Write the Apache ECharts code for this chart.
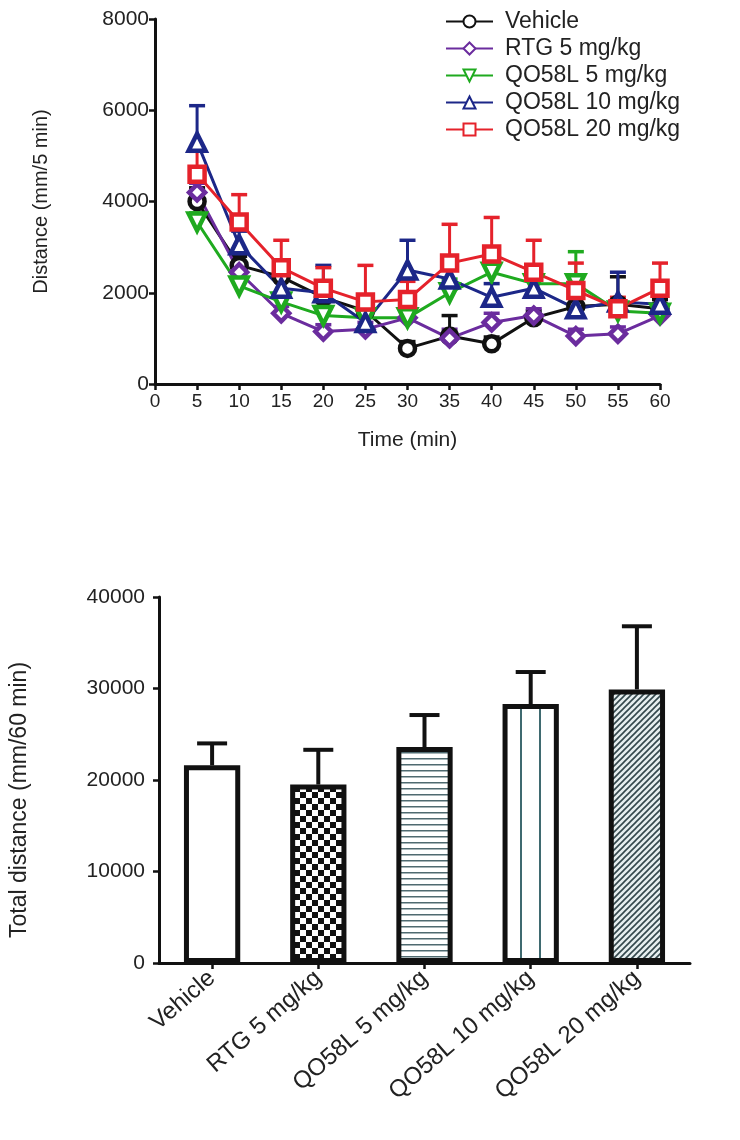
<!DOCTYPE html>
<html><head><meta charset="utf-8">
<script src="https://cdn.jsdelivr.net/npm/echarts@6/dist/echarts.min.js"></script>
<style>html,body{margin:0;padding:0;background:#fff}#c{width:740px;height:1140px}</style>
</head><body><div id="c"></div>
<script>
// ---- data: time course ----
const timePoints = [5, 10, 15, 20, 25, 30, 35, 40, 45, 50, 55, 60];
const seriesNames = ['Vehicle', 'RTG 5 mg/kg', 'QO58L 5 mg/kg', 'QO58L 10 mg/kg', 'QO58L 20 mg/kg'];
const vehicleMean = [4000, 2600, 2350, 1900, 1600, 780, 1050, 880, 1450, 1700, 1750, 1650];
const vehicleErr  = [300, 200, 250, 200, 200, 150, 450, 150, 150, 200, 600, 200];
const rtgMean     = [4200, 2450, 1550, 1150, 1200, 1450, 1000, 1350, 1500, 1050, 1100, 1500];
const rtgErr      = [200, 200, 150, 150, 150, 200, 200, 200, 150, 150, 150, 150];
const qo5Mean     = [3550, 2150, 1800, 1500, 1450, 1450, 2000, 2450, 2200, 2200, 1600, 1550];
const qo5Err      = [200, 200, 200, 200, 200, 200, 300, 450, 300, 700, 250, 200];
const qo10Mean    = [5300, 3050, 2100, 2000, 1350, 2500, 2300, 1900, 2100, 1650, 1800, 1750];
const qo10Err     = [800, 300, 300, 600, 300, 650, 300, 300, 300, 300, 650, 300];
const qo20Mean    = [4600, 3550, 2550, 2100, 1800, 1850, 2650, 2850, 2450, 2050, 1650, 2100];
const qo20Err     = [500, 600, 600, 450, 800, 400, 850, 800, 700, 600, 250, 550];

// ---- data: total distance ----
const totalCategories = ['Vehicle', 'RTG 5 mg/kg', 'QO58L 5 mg/kg', 'QO58L 10 mg/kg', 'QO58L 20 mg/kg'];
const totalMean = [21600, 19500, 23600, 28300, 29900];
const totalErr  = [2400, 3800, 3500, 3500, 6900];

const means = [vehicleMean, rtgMean, qo5Mean, qo10Mean, qo20Mean];
const errs = [vehicleErr, rtgErr, qo5Err, qo10Err, qo20Err];
const colors = ['#111111', '#6b2c9e', '#1faa1f', '#1c2788', '#e5222b'];
const symbols = ['circle', 'diamond', 'triangle', 'triangle', 'rect'];
const rotates = [0, 0, 180, 0, 0];
const sizes = [15, 16, 17, 17, 15];
const FONT = 'Liberation Sans, Arial, sans-serif';

// ---- patterns ----
function mk(w, h, draw) { const c = document.createElement('canvas'); c.width = w; c.height = h; draw(c.getContext('2d'), w, h); return c; }
const patWhite = '#ffffff';
const patChecker = mk(12, 12, (g) => { g.fillStyle = '#fff'; g.fillRect(0,0,12,12); g.fillStyle = '#111'; g.fillRect(0,0,6,6); g.fillRect(6,6,6,6); });
const patHoriz = mk(6, 6, (g) => { g.fillStyle = '#fff'; g.fillRect(0,0,6,6); g.fillStyle = '#4f6a70'; g.fillRect(0,2,6,1.5); });
const patVert = mk(19, 6, (g) => { g.fillStyle = '#fff'; g.fillRect(0,0,19,6); g.fillStyle = '#3f6a70'; g.fillRect(7,0,2,6); });
const patDiag = mk(6, 6, (g) => { g.fillStyle = '#e6eeef'; g.fillRect(0,0,6,6); g.strokeStyle = '#33474c'; g.lineWidth = 1.6; g.beginPath(); g.moveTo(-1,7); g.lineTo(7,-1); g.moveTo(-4,4); g.lineTo(4,-4); g.moveTo(2,10); g.lineTo(10,2); g.stroke(); });
const barFills = [patWhite, {image: patChecker, repeat: 'repeat'}, {image: patHoriz, repeat: 'repeat'}, {image: patVert, repeat: 'repeat'}, {image: patDiag, repeat: 'repeat'}];

const chart = echarts.init(document.getElementById('c'), null, {renderer: 'canvas'});

function errRender(capHalf, color) {
  return function (params, api) {
    const x = api.value(0), y = api.value(1), e = api.value(2);
    const p0 = api.coord([x, y]);
    const p1 = api.coord([x, y + e]);
    return {
      type: 'group',
      children: [
        {type: 'line', shape: {x1: p0[0], y1: p0[1], x2: p1[0], y2: p1[1]}, style: {stroke: color, lineWidth: 3}},
        {type: 'line', shape: {x1: p1[0] - capHalf, y1: p1[1], x2: p1[0] + capHalf, y2: p1[1]}, style: {stroke: color, lineWidth: 3.5}}
      ]
    };
  };
}

const series = [];
means.forEach((m, i) => {
  series.push({
    type: 'custom', xAxisIndex: 0, yAxisIndex: 0, z: 1, silent: true,
    renderItem: errRender(8, colors[i]),
    encode: {x: 0, y: 1},
    data: timePoints.map((t, k) => [t, m[k], errs[i][k]])
  });
});
means.forEach((m, i) => {
  series.push({
    name: seriesNames[i], type: 'line', xAxisIndex: 0, yAxisIndex: 0, z: 3,
    data: timePoints.map((t, k) => [t, m[k]]),
    symbol: symbols[i], symbolRotate: rotates[i], symbolSize: sizes[i],
    showAllSymbol: true,
    lineStyle: {color: colors[i], width: 3},
    itemStyle: {color: '#ffffff', borderColor: colors[i], borderWidth: 4.5}
  });
});
series.push({
  type: 'bar', xAxisIndex: 1, yAxisIndex: 1, barWidth: '53%', z: 2,
  data: totalMean.map((v, i) => ({value: v, itemStyle: {color: barFills[i], borderColor: '#111', borderWidth: 5}}))
});
series.push({
  type: 'custom', xAxisIndex: 1, yAxisIndex: 1, z: 1, silent: true,
  renderItem: function (params, api) {
    const idx = api.value(0), y = api.value(1), e = api.value(2);
    const p0 = api.coord([idx, y]);
    const p1 = api.coord([idx, y + e]);
    return {type: 'group', children: [
      {type: 'line', shape: {x1: p0[0], y1: p0[1], x2: p1[0], y2: p1[1]}, style: {stroke: '#111', lineWidth: 4}},
      {type: 'line', shape: {x1: p1[0] - 15, y1: p1[1], x2: p1[0] + 15, y2: p1[1]}, style: {stroke: '#111', lineWidth: 4}}
    ]};
  },
  encode: {x: 0, y: 1},
  data: totalMean.map((v, i) => [i, v, totalErr[i]])
});

const plain = (v) => String(v);
const axisCommon = {
  axisLine: {show: true, lineStyle: {color: '#111', width: 3}},
  axisTick: {show: true, inside: false, length: 6, lineStyle: {color: '#111', width: 2.5}},
  splitLine: {show: false},
  axisLabel: {color: '#222', fontFamily: FONT, fontSize: 21, formatter: plain},
  nameTextStyle: {color: '#222', fontFamily: FONT, fontSize: 20}
};

chart.setOption({
  animation: false,
  backgroundColor: '#fff',
  textStyle: {fontFamily: FONT},
  legend: {
    data: seriesNames, orient: 'vertical', left: 440, top: 5,
    itemWidth: 47, itemHeight: 15, itemGap: 4,
    textStyle: {color: '#222', fontFamily: FONT, fontSize: 23, padding: [0, 0, 0, 7]}
  },
  grid: [
    {left: 155, right: 80, top: 19, bottom: 756},
    {left: 158, right: 50, top: 597, bottom: 177}
  ],
  xAxis: [
    Object.assign({}, axisCommon, {gridIndex: 0, type: 'value', min: 0, max: 60, interval: 5,
      name: 'Time (min)', nameLocation: 'middle', nameGap: 46,
      nameTextStyle: Object.assign({}, axisCommon.nameTextStyle, {fontSize: 21}),
      axisLabel: Object.assign({}, axisCommon.axisLabel, {fontSize: 19, margin: 8})}),
    Object.assign({}, axisCommon, {gridIndex: 1, type: 'category', data: totalCategories,
      axisTick: Object.assign({}, axisCommon.axisTick, {alignWithLabel: true}),
      axisLabel: {color: '#222', fontFamily: FONT, rotate: 41, margin: 12, interval: 0, fontSize: 24}})
  ],
  yAxis: [
    Object.assign({}, axisCommon, {gridIndex: 0, type: 'value', min: 0, max: 8000, interval: 2000,
      name: 'Distance (mm/5 min)', nameLocation: 'middle', nameGap: 104, nameRotate: 90,
      axisLabel: Object.assign({}, axisCommon.axisLabel, {margin: 6})}),
    Object.assign({}, axisCommon, {gridIndex: 1, type: 'value', min: 0, max: 40000, interval: 10000,
      name: 'Total distance (mm/60 min)', nameLocation: 'middle', nameGap: 128, nameRotate: 90,
      nameTextStyle: Object.assign({}, axisCommon.nameTextStyle, {fontSize: 23, padding: [0, 40, 0, 0]}),
      axisLabel: Object.assign({}, axisCommon.axisLabel, {margin: 14, fontSize: 21})})
  ],
  series: series
});
</script></body></html>
